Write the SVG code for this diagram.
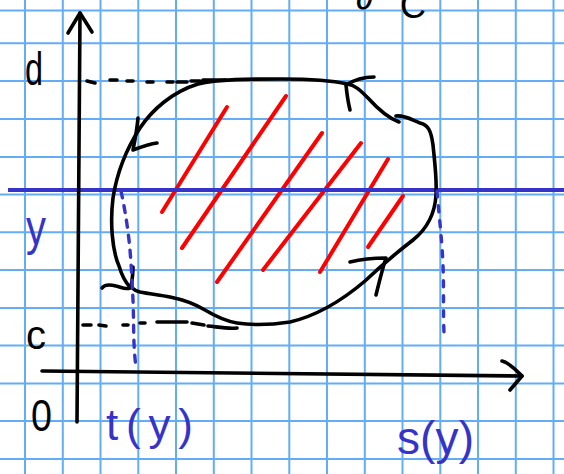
<svg xmlns="http://www.w3.org/2000/svg" width="564" height="474" viewBox="0 0 564 474">
<style>
.grid line{stroke:#63adf6;stroke-width:2}
.ink{fill:none;stroke:#000;stroke-width:3.6;stroke-linecap:round;stroke-linejoin:round}
.hatch line{stroke:#ff0000;stroke-width:4;stroke-linecap:round}
.blue{fill:none;stroke:#3634c8;stroke-linecap:round}
.lbl{font-family:"Liberation Sans",Arial,sans-serif;fill:#000}
.lblb{font-family:"Liberation Sans",Arial,sans-serif;fill:#3634c8}
</style>
<rect width="564" height="474" fill="#fff"/>
<g id="grid" class="grid">
<line x1="25" y1="0" x2="25" y2="474"/><line x1="62.8" y1="0" x2="62.8" y2="474"/><line x1="100.5" y1="0" x2="100.5" y2="474"/><line x1="138.3" y1="0" x2="138.3" y2="474"/><line x1="176" y1="0" x2="176" y2="474"/><line x1="213.8" y1="0" x2="213.8" y2="474"/><line x1="251.5" y1="0" x2="251.5" y2="474"/><line x1="289.3" y1="0" x2="289.3" y2="474"/><line x1="327" y1="0" x2="327" y2="474"/><line x1="364.8" y1="0" x2="364.8" y2="474"/><line x1="402.5" y1="0" x2="402.5" y2="474"/><line x1="440.3" y1="0" x2="440.3" y2="474"/><line x1="478" y1="0" x2="478" y2="474"/><line x1="515.8" y1="0" x2="515.8" y2="474"/><line x1="553.5" y1="0" x2="553.5" y2="474"/>
<line x1="0" y1="10.5" x2="564" y2="10.5"/><line x1="0" y1="43.3" x2="564" y2="43.3"/><line x1="0" y1="81" x2="564" y2="81"/><line x1="0" y1="119" x2="564" y2="119"/><line x1="0" y1="157" x2="564" y2="157"/><line x1="0" y1="194.5" x2="564" y2="194.5"/><line x1="0" y1="232.3" x2="564" y2="232.3"/><line x1="0" y1="270" x2="564" y2="270"/><line x1="0" y1="308" x2="564" y2="308"/><line x1="0" y1="345.5" x2="564" y2="345.5"/><line x1="0" y1="383.5" x2="564" y2="383.5"/><line x1="0" y1="421" x2="564" y2="421"/><line x1="0" y1="459" x2="564" y2="459"/>
</g>
<g id="hatching" class="hatch">
<line x1="162" y1="212" x2="227" y2="107"/>
<line x1="182" y1="248" x2="286" y2="96"/>
<line x1="217" y1="282" x2="322" y2="133"/>
<line x1="263" y1="270" x2="361" y2="143"/>
<line x1="320" y1="272" x2="388" y2="159"/>
<line x1="368" y1="247" x2="403" y2="196"/>
</g>
<g id="y-level-line">
<line x1="8" y1="190" x2="564" y2="190" stroke="#3634c8" stroke-width="4"/>
</g>
<g id="axes" class="ink">
<path d="M80,13 L77,422"/>
<path d="M68,33 L80,13 L92,32"/>
<path d="M42,371 L522,376"/>
<path d="M502,361 C510,363 516,370 522,376 L510,390"/>
</g>
<g id="curve-C" class="ink">
<path d="M399,122 C388,118 377,108 368,98 C360,90 355,85 347,84 C330,80 305,79 282,79 C250,79 218,79 198,84 C172,92 152,110 140,128 C127,148 117,172 113,198 C110,222 112,250 119,266 C122,276 126,283 130,287"/>
<path d="M374,77 C362,77 354,80 346,85 C347,95 348,102 350,110"/>
<path d="M138,118 C137,130 135,140 133,150 C141,147 149,144 157,143"/>
<path d="M396,116 C405,115 412,120 420,123 C428,125 431,130 433,145 C435,165 437,180 436,195 C435,212 428,228 413,240 C400,250 385,262 365,281 C345,298 320,315 290,322 C270,325 250,325 237,323 C225,321 215,316 205,310 C195,304 185,300 170,297 C160,295 150,294 140,292 C136,291 133,289 131,287"/>
<path d="M350,262 C362,259 374,258 386,258 C382,270 379,283 376,295"/>
<path d="M102,288 C104,285 108,284 116,286 C121,287 125,290 130,288"/>
<path d="M133,267 C133,275 132,281 131,287"/>
</g>
<g id="dashes" class="ink" stroke-width="3">
<path d="M87,81 L95,83 M110,80 L117,80 M127,81 L133,81 M147,82 L153,82 M167,82 L173,82 M177,82 L187,82 M191,81 L200,81 M203,80 L226,80"/>
<path d="M83,325 L91,325 M99,325 L106,326 M123,325 L128,325 M140,323 L145,323 M157,322 L187,322 M192,323 L204,325 M208,326 C218,327 228,329 237,328"/>
</g>
<g id="t-dotted" class="blue">
<path d="M121,191 C124,205 127,222 129,240 C131,258 132,280 133,300 C134,325 133,345 136,367" stroke-width="3.4" stroke-dasharray="7 8"/>
</g>
<g id="s-dotted" class="blue">
<path d="M437,191 C439,215 442,240 443,265 C444,290 443,310 444,333" stroke-width="3.4" stroke-dasharray="6 9"/>
</g>
<g id="labels">
<text class="lbl" x="25" y="85" font-size="46" textLength="18" lengthAdjust="spacingAndGlyphs">d</text>
<text class="lblb" x="26" y="245" font-size="50" textLength="20" lengthAdjust="spacingAndGlyphs">y</text>
<text class="lbl" x="26" y="349" font-size="40">c</text>
<text class="lbl" x="31" y="431" font-size="44" textLength="21" lengthAdjust="spacingAndGlyphs">0</text>
<text class="lblb" x="106" y="440" font-size="44" textLength="87" lengthAdjust="spacing">t(y)</text>
<text class="lblb" x="397" y="454" font-size="46" textLength="77" lengthAdjust="spacing">s(y)</text>
<text class="lbl" x="356" y="18" font-size="36"><tspan dy="-9">∂</tspan><tspan x="400" dy="9">C</tspan></text>
</g>
</svg>
